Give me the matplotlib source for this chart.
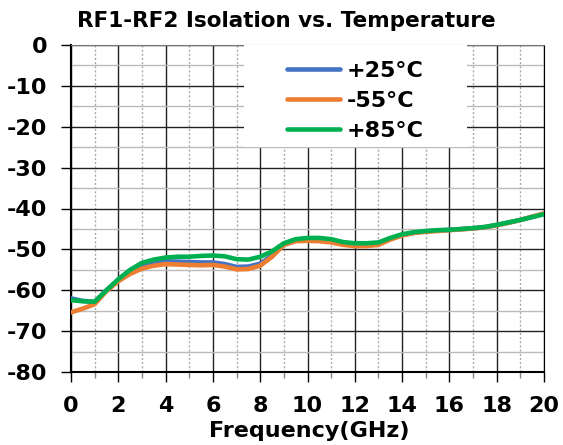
import numpy as np
import matplotlib
matplotlib.use("Agg")
import matplotlib.pyplot as plt
from matplotlib.patches import Rectangle

freq = np.arange(0, 20.5, 0.5)

iso_25 = [-62.0, -62.6, -62.9, -60.0, -57.5, -55.5, -54.0, -53.3, -52.9, -53.0,
          -53.1, -53.2, -53.2, -53.6, -54.3, -54.2, -53.5, -51.5, -48.8, -47.8,
          -47.6, -47.7, -48.0, -48.7, -49.0, -49.0, -48.7, -47.4, -46.5, -45.9,
          -45.6, -45.4, -45.25, -45.05, -44.85, -44.55, -44.05, -43.45, -42.8, -42.05,
          -41.3]
iso_m55 = [-65.4, -64.5, -63.4, -60.2, -57.8, -56.0, -54.7, -54.0, -53.6, -53.7,
           -53.8, -53.9, -53.8, -54.2, -54.9, -54.8, -54.0, -51.8, -48.9, -48.0,
           -47.9, -48.0, -48.3, -48.9, -49.2, -49.2, -48.9, -47.6, -46.6, -46.0,
           -45.7, -45.5, -45.3, -45.1, -44.9, -44.6, -44.1, -43.5, -42.8, -42.0,
           -41.2]
iso_85 = [-62.4, -62.7, -62.8, -60.0, -57.3, -55.0, -53.3, -52.5, -52.0, -51.8,
          -51.8, -51.6, -51.5, -51.7, -52.4, -52.5, -51.8, -50.5, -48.5, -47.5,
          -47.2, -47.2, -47.5, -48.2, -48.5, -48.5, -48.3, -47.2, -46.3, -45.8,
          -45.5, -45.3, -45.2, -45.0, -44.8, -44.5, -44.0, -43.4, -42.8, -42.1,
          -41.4]

labels = ["+25°C", "-55°C", "+85°C"]
colors = ["#4472C4", "#ED7D31", "#00B050"]

plt.rcParams["font.family"] = "DejaVu Sans"
plt.rcParams["font.weight"] = "bold"
plt.rcParams["axes.unicode_minus"] = False

fig = plt.figure(figsize=(5.63, 4.45), dpi=100)
ax = fig.add_axes([71 / 563, 1 - 372 / 445, (544 - 71) / 563, (372 - 45) / 445])

for ys, lab, c in zip([iso_25, iso_m55, iso_85], labels, colors):
    ax.plot(freq, ys, color=c, lw=3.3, label=lab, zorder=3, solid_capstyle="round")

ax.set_xlim(0, 20)
ax.set_ylim(-80, 0)
ax.set_xticks(np.arange(0, 21, 2))
ax.set_xticks(np.arange(1, 20, 2), minor=True)
ax.set_yticks(np.arange(-80, 1, 10))
ax.set_yticks(np.arange(-75, 0, 10), minor=True)

ax.grid(which="major", axis="both", color="#222222", lw=1.0, zorder=1)
ax.grid(which="minor", axis="x", color="#aaaaaa", lw=1.0, ls=(0, (1.5, 1.5)), zorder=1)
ax.grid(which="minor", axis="y", color="#bbbbbb", lw=1.0, zorder=1)

ax.tick_params(which="major", direction="out", length=7, width=1, labelsize=16)
ax.tick_params(axis="y", which="major", pad=10)
ax.tick_params(axis="x", which="major", pad=10)
ax.tick_params(axis="x", which="minor", direction="out", length=4, width=1, color="#888888")
ax.tick_params(axis="y", which="minor", length=0)
for lbl in ax.get_xticklabels() + ax.get_yticklabels():
    lbl.set_fontweight("bold")

ax.spines["top"].set_color("#777777")
ax.spines["left"].set_linewidth(1.5)
ax.spines["bottom"].set_linewidth(1.5)

fig.text(0.549, 1 - 431 / 445, "Frequency(GHz)", ha="center", va="center",
         fontsize=16, fontweight="bold")
fig.text(0.508, 1 - 21 / 445, "RF1-RF2 Isolation vs. Temperature", ha="center", va="center",
         fontsize=15.5, fontweight="bold")

# white legend panel
ax.add_patch(Rectangle((0.366, 0.689), 0.471, 0.311, transform=ax.transAxes,
                       facecolor="white", edgecolor="none", zorder=4))
leg = ax.legend(loc="center left", bbox_to_anchor=(0.456, 0.829), frameon=False,
                prop={"size": 16, "weight": "bold"}, handlelength=2.4,
                labelspacing=0.45, borderpad=0.0, handletextpad=0.3, borderaxespad=0)
leg.set_zorder(5)
for h in leg.get_lines():
    h.set_linewidth(3.3)

fig.savefig("out.png", dpi=100)
